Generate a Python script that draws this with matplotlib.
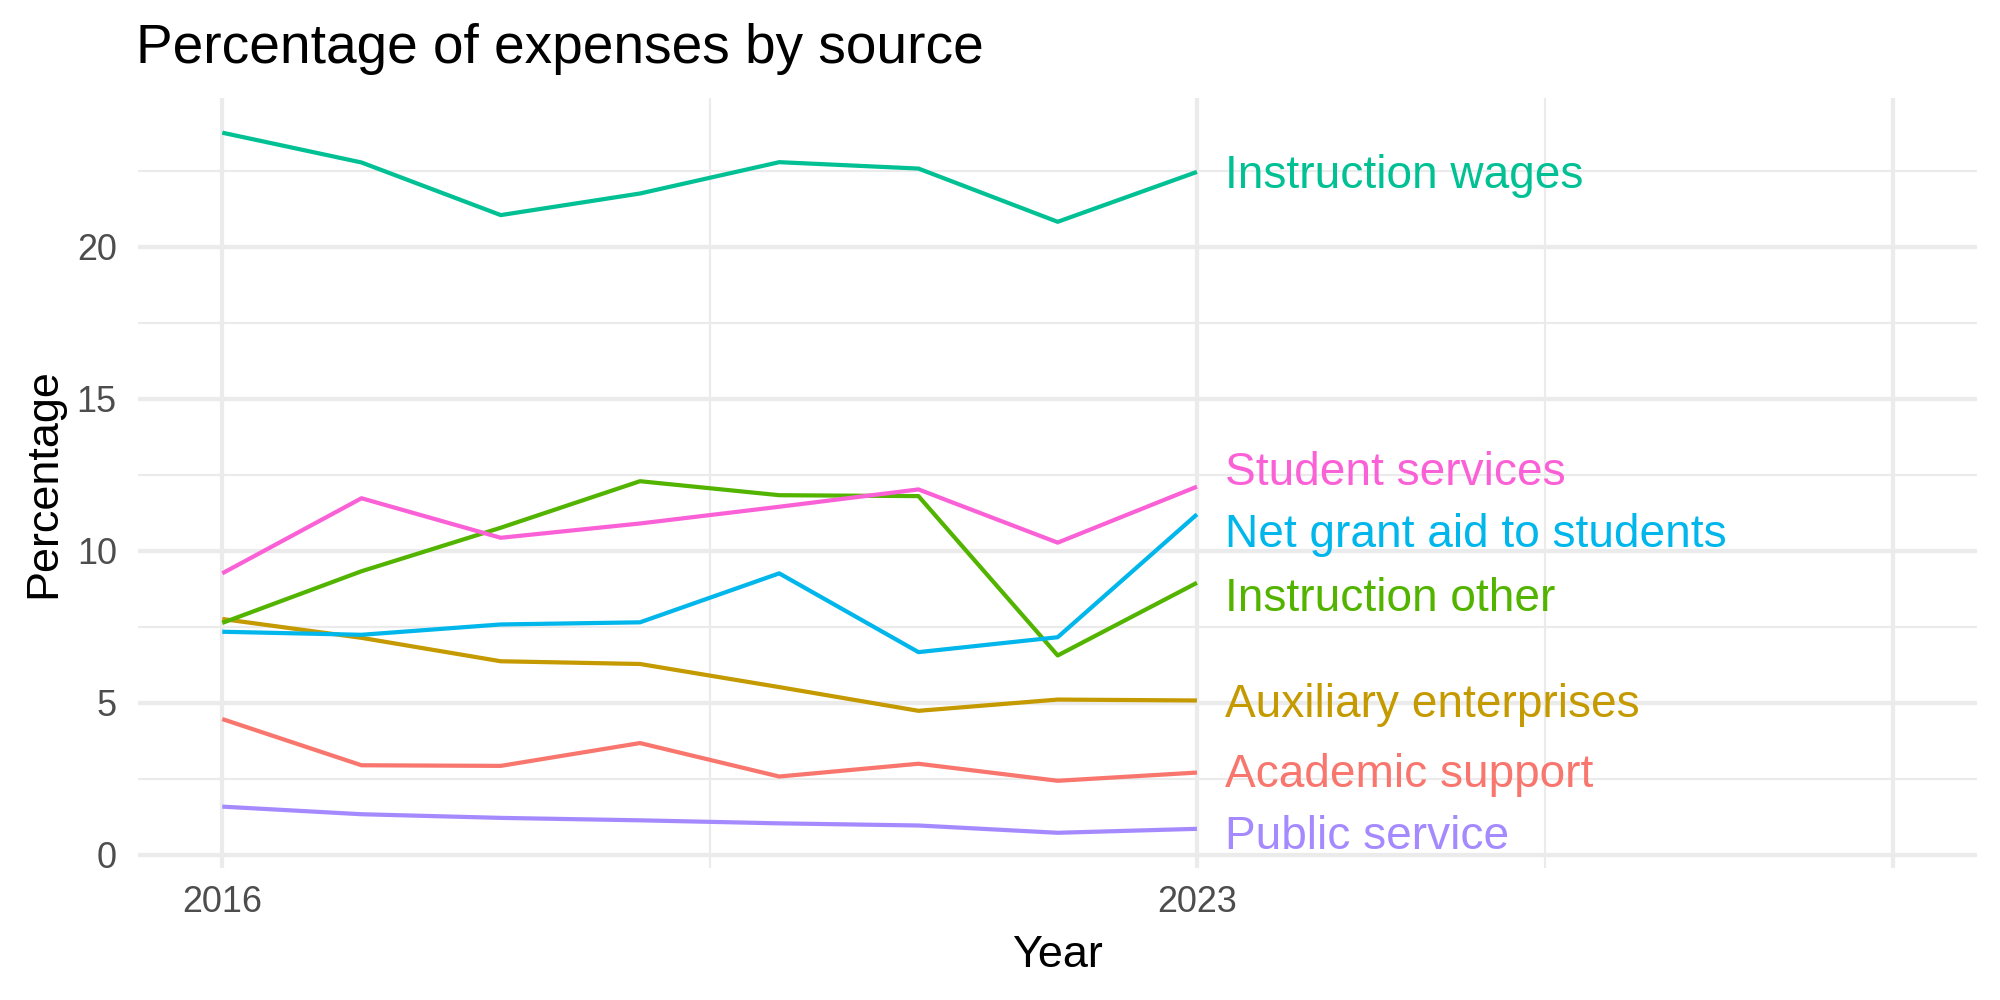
import matplotlib
matplotlib.use("Agg")
import matplotlib.pyplot as plt
from matplotlib.ticker import FixedLocator

plt.rcParams['font.family'] = ['Liberation Sans', 'DejaVu Sans']

years = [2016, 2017, 2018, 2019, 2020, 2021, 2022, 2023]

academic_support = [4.47, 2.95, 2.93, 3.68, 2.58, 3.00, 2.44, 2.71]
auxiliary_enterprises = [7.76, 7.14, 6.37, 6.28, 5.52, 4.74, 5.11, 5.08]
instruction_other = [7.63, 9.33, 10.76, 12.29, 11.83, 11.80, 6.56, 8.95]
instruction_wages = [23.75, 22.77, 21.04, 21.75, 22.78, 22.57, 20.82, 22.46]
net_grant_aid = [7.34, 7.24, 7.58, 7.65, 9.26, 6.67, 7.16, 11.20]
public_service = [1.59, 1.34, 1.22, 1.14, 1.04, 0.97, 0.73, 0.86]
student_services = [9.26, 11.73, 10.43, 10.90, 11.45, 12.02, 10.27, 12.11]

series_names = ["Academic support", "Auxiliary enterprises", "Instruction other",
                "Instruction wages", "Net grant aid to students", "Public service",
                "Student services"]
series_values = [academic_support, auxiliary_enterprises, instruction_other,
                 instruction_wages, net_grant_aid, public_service, student_services]
colors = ["#F8766D", "#C49A00", "#53B400", "#00C094", "#00B6EB", "#A58AFF", "#FB61D7"]

# label layout (repelled positions, vertical centre of text)
label_x = 2023.2
label_centres = [2.79, 5.07, 8.56, 22.46, 10.66, 0.74, 12.71]

x_major = [2016, 2023, 2028]
x_labels = ["2016", "2023", ""]
x_minor = [2019.5, 2025.5]
y_major = [0, 5, 10, 15, 20]
y_minor = [2.5, 7.5, 12.5, 17.5, 22.5]

W, H = 2000, 1000
fig = plt.figure(figsize=(20, 10), dpi=100)
left, right, top, bottom = 138.3, 1976.7, 97.7, 867.7
ax = fig.add_axes([left / W, 1 - bottom / H, (right - left) / W, (bottom - top) / H])

grid_col = "#EBEBEB"
px = 0.72  # points per pixel

for name, vals, col in zip(series_names, series_values, colors):
    ax.plot(years, vals, color=col, lw=4.2 * px, solid_capstyle='butt',
            solid_joinstyle='round', zorder=3)

for name, yc, col in zip(series_names, label_centres, colors):
    ax.annotate(name, (label_x, yc), xytext=(0, -16.5), textcoords='offset pixels',
                ha='left', va='baseline', color=col, fontsize=46 * px, zorder=4,
                annotation_clip=False)

ax.set_xlim(2015.397, 2028.6)
ax.set_ylim(-0.418, 24.90)

ax.xaxis.set_major_locator(FixedLocator(x_major))
ax.set_xticks(x_major)
ax.set_xticklabels(x_labels)
ax.xaxis.set_minor_locator(FixedLocator(x_minor))
ax.yaxis.set_major_locator(FixedLocator(y_major))
ax.set_yticklabels([str(v) for v in y_major])
ax.yaxis.set_minor_locator(FixedLocator(y_minor))

ax.grid(which='major', color=grid_col, lw=4.2 * px, zorder=0)
ax.grid(which='minor', color=grid_col, lw=2.1 * px, zorder=0)
ax.set_axisbelow(True)
for s in ax.spines.values():
    s.set_visible(False)

ax.tick_params(which='both', length=0)
ax.tick_params(axis='y', labelsize=36 * px, labelcolor="#4D4D4D", pad=15.5)
ax.tick_params(axis='x', labelsize=36 * px, labelcolor="#4D4D4D", pad=12.5)

fig.text(136 / W, 1 - 62.7 / H, "Percentage of expenses by source", fontsize=55 * px,
         ha='left', va='baseline', color='black')
fig.text((left + right) / 2 / W, 1 - 966.7 / H, "Year", fontsize=45 * px,
         ha='center', va='baseline', color='black')
fig.text(55 / W, 1 - (top + bottom) / 2 / H, "Percentage", fontsize=45 * px,
         ha='center', va='baseline', rotation=90, rotation_mode='anchor', color='black')

fig.savefig("out.png", dpi=100, facecolor='white')
